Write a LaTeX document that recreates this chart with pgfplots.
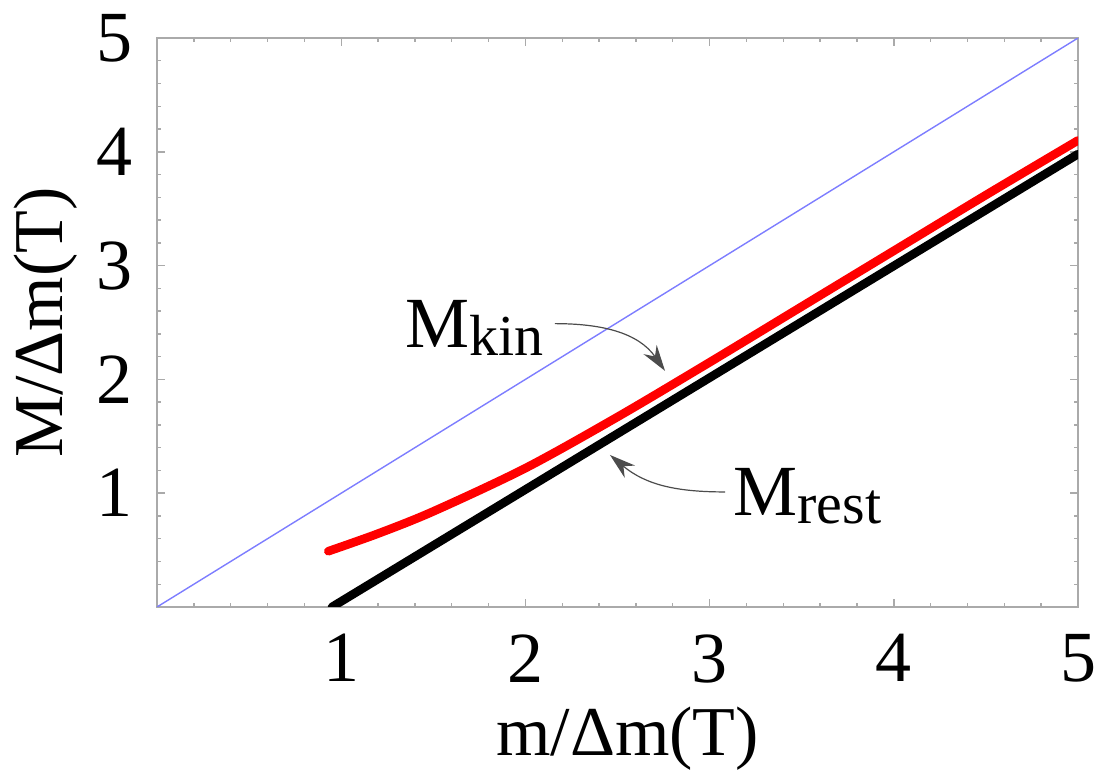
\documentclass[border=0pt]{standalone}
\usepackage{fontspec}
\setmainfont{Liberation Serif}
\usepackage{pgfplots}
\pgfplotsset{compat=1.18}
\usetikzlibrary{arrows.meta}
\definecolor{diagblue}{RGB}{125,125,255}
\definecolor{framegray}{RGB}{170,170,170}
\begin{document}
\begin{tikzpicture}
\begin{axis}[
  name=ax,
  scale only axis, width=460.5pt, height=284.5pt,
  xmin=0, xmax=5, ymin=0, ymax=5,
  axis line style={framegray, line width=1pt},
  xtick={1,2,3,4,5}, ytick={1,2,3,4,5},
  minor xtick={0.2,0.4,0.6,0.8,1.2,1.4,1.6,1.8,2.2,2.4,2.6,2.8,3.2,3.4,3.6,3.8,4.2,4.4,4.6,4.8},
  minor ytick={0.2,0.4,0.6,0.8,1.2,1.4,1.6,1.8,2.2,2.4,2.6,2.8,3.2,3.4,3.6,3.8,4.2,4.4,4.6,4.8},
  tick align=inside,
  major tick length=4pt, minor tick length=2.2pt,
  tick style={framegray, line width=0.7pt},
  /pgf/number format/assume math mode=true,
  ticklabel style={font=\rmfamily\fontsize{36}{40}\selectfont, inner sep=0pt},
  xticklabel style={anchor=north, yshift=-13.5pt},
  yticklabel style={anchor=east, xshift=-12pt},
  xlabel={m/Δm(T)}, ylabel={M/Δm(T)},
  label style={font=\rmfamily\fontsize{35}{40}\selectfont, inner sep=0pt},
  xlabel style={at={(axis description cs:0.511,-0.2618)}, anchor=base},
  ylabel style={at={(axis description cs:-0.1031,0.5)}, anchor=base, rotate=0},
]
% diagonal
\addplot[diagblue, line width=0.7pt] coordinates {(0,0) (5,5)};
% M_kin (red)
\addplot[red, line width=4.3pt, line cap=round, smooth] coordinates {
(0.93,0.49) (1.2,0.645) (1.5,0.84) (2,1.22) (2.5,1.67) (3,2.15) (3.5,2.64) (4,3.13) (4.5,3.62) (5,4.1)};
% M_rest (black)
\addplot[black, line width=4.3pt, line cap=round] coordinates {
(0.95,0) (5,3.98)};
% labels
\node[anchor=base west, inner sep=0pt, font=\rmfamily\fontsize{36}{40}\selectfont] at (axis cs:1.346,2.276)
  {M\raisebox{-4pt}{\fontsize{29}{30}\selectfont kin}};
\node[anchor=base west, inner sep=0pt, font=\rmfamily\fontsize{36}{40}\selectfont] at (axis cs:3.127,0.808)
  {M\raisebox{-4pt}{\fontsize{29}{30}\selectfont rest}};
% arrows
\draw[-{Stealth[length=13pt,width=8pt]}, line width=0.6pt, black!70]
  (axis cs:2.16,2.49) to[out=0, in=125] (axis cs:2.758,2.075);
\draw[-{Stealth[length=13pt,width=8pt]}, line width=0.6pt, black!70]
  (axis cs:3.084,1.011) to[out=180, in=-40] (axis cs:2.459,1.336);
\end{axis}
\pgfresetboundingbox
\path[use as bounding box] (-78.5pt,-83.5pt) rectangle (469.5pt,303.5pt);
\end{tikzpicture}
\end{document}
